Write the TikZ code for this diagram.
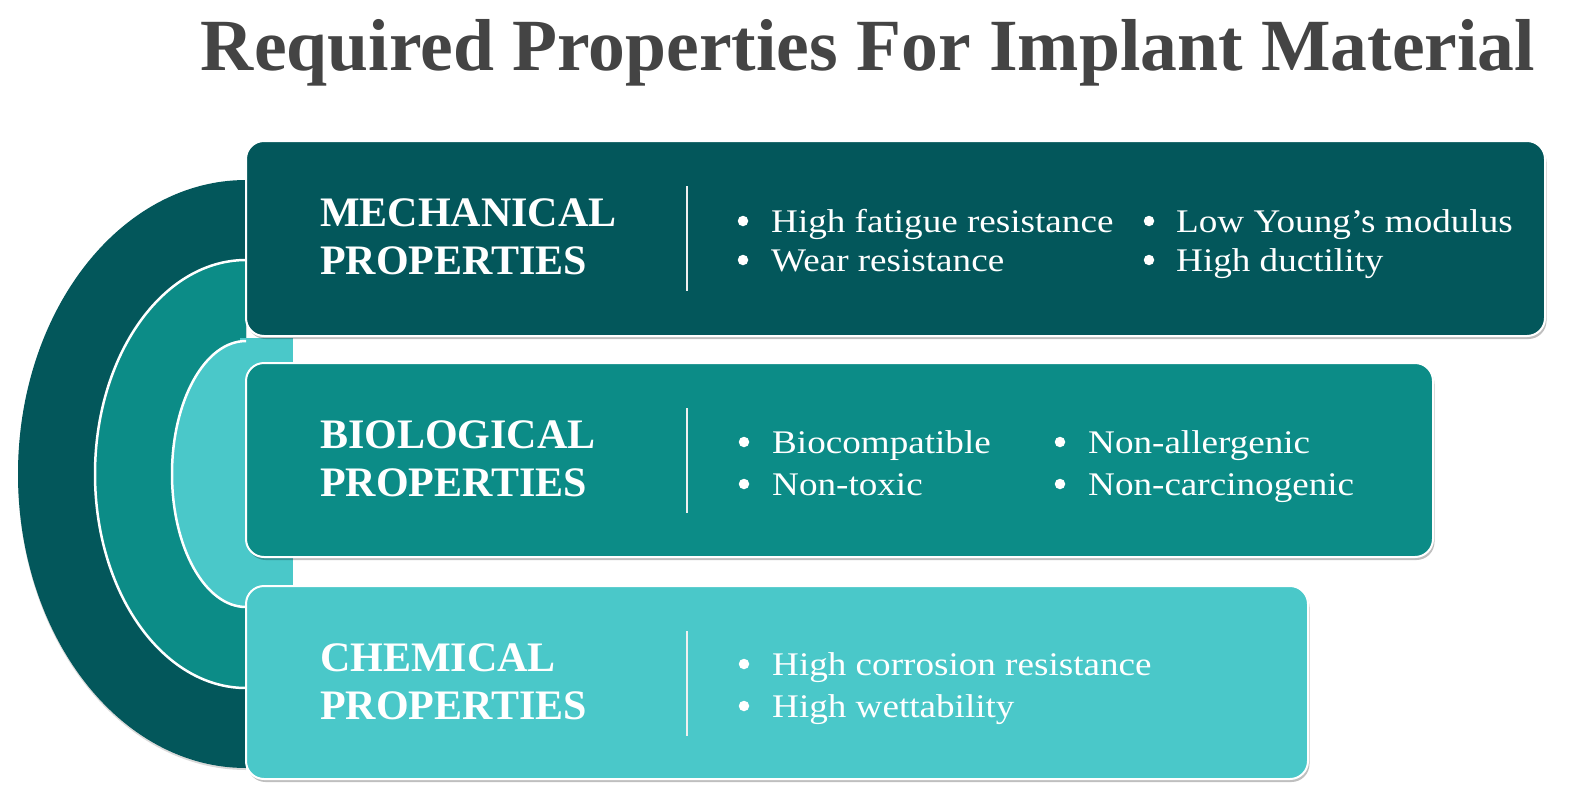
\documentclass[tikz,border=0pt]{standalone}
\usepackage{fontspec}
\setmainfont{Liberation Serif}
\newfontfamily\bodyfam[FakeStretch=1.125]{Liberation Serif}
\newfontfamily\headfam[FakeStretch=1.0]{Liberation Serif}
\usetikzlibrary{shadows}
\definecolor{cdark}{HTML}{03575B}
\definecolor{cmid}{HTML}{0C8C87}
\definecolor{clight}{HTML}{4AC8C9}
\definecolor{ctitle}{HTML}{444444}
\tikzset{
  panel/.style={rounded corners=18pt, draw=white, line width=2pt,
    drop shadow={shadow xshift=1.5pt, shadow yshift=-3pt, opacity=0.25, fill=black}},
  head/.style={anchor=base west, text=white, inner sep=0pt, font=\headfam\fontsize{42}{48}\selectfont\bfseries},
  item/.style={anchor=base west, text=white, inner sep=0pt, font=\bodyfam\fontsize{33}{40}\selectfont},
  dot/.style={circle, fill=white, inner sep=0pt, minimum size=10.5pt},
  sepline/.style={draw=white!88!gray, line width=2pt},
  ring/.style={draw=white, line width=2.5pt}
}
\begin{document}
\begin{tikzpicture}[x=1pt,y=-1pt]
\useasboundingbox (0,0) rectangle (1569,798);
% title
\node[anchor=base, text=ctitle, inner sep=0pt, font=\fontsize{73.6}{80}\selectfont\bfseries] (title) at (868,70) {Required Properties For Implant Material};
% arcs
\begin{scope}
  \clip (0,0) rectangle (246,798);
  \fill[cdark, drop shadow={shadow xshift=0pt, shadow yshift=-2pt, opacity=0.15, fill=black}] (246,474) ellipse [x radius=228pt, y radius=294pt];
  \fill[cmid] (246,474) ellipse [x radius=151pt, y radius=214pt];
  \draw[ring] (246,474) ellipse [x radius=151pt, y radius=214pt];
\end{scope}
\fill[clight] (240,338) rectangle (293,600);
\begin{scope}
  \clip (0,0) rectangle (246,798);
  \fill[clight] (246,474) ellipse [x radius=74pt, y radius=133pt];
  \draw[ring] (246,474) ellipse [x radius=74pt, y radius=133pt];
\end{scope}
% panels
\path[panel, fill=clight] (246,586) rectangle (1308,779);
\path[panel, fill=cmid] (246,363) rectangle (1433,557);
\path[panel, fill=cdark] (246,141) rectangle (1545,336);
% separators
\draw[sepline] (687,186) -- (687,291);
\draw[sepline] (687,408) -- (687,513);
\draw[sepline] (687,631) -- (687,736);
% mechanical
\node[head] (mh1) at (320,226) {MECHANICAL};
\node[head] (mh2) at (320,274) {PROPERTIES};
\node[dot] (mb1) at (743,221) {};
\node[item] (mi1) at (771,232) {High fatigue resistance};
\node[dot] (mb2) at (743,260) {};
\node[item] (mi2) at (771,271) {Wear resistance};
\node[dot] (mb3) at (1149,221) {};
\node[item] (mi3) at (1176,232) {Low Young’s modulus};
\node[dot] (mb4) at (1149,260) {};
\node[item] (mi4) at (1176,271) {High ductility};
% biological
\node[head] (bh1) at (320,448) {BIOLOGICAL};
\node[head] (bh2) at (320,496) {PROPERTIES};
\node[dot] (bb1) at (744,442) {};
\node[item] (bi1) at (772,453) {Biocompatible};
\node[dot] (bb2) at (744,484) {};
\node[item] (bi2) at (772,495) {Non-toxic};
\node[dot] (bb3) at (1060,442) {};
\node[item] (bi3) at (1088,453) {Non-allergenic};
\node[dot] (bb4) at (1060,484) {};
\node[item] (bi4) at (1088,495) {Non-carcinogenic};
% chemical
\node[head] (ch1) at (320,671) {CHEMICAL};
\node[head] (ch2) at (320,719) {PROPERTIES};
\node[dot] (cb1) at (744,664) {};
\node[item] (ci1) at (772,675) {High corrosion resistance};
\node[dot] (cb2) at (744,706) {};
\node[item] (ci2) at (772,717) {High wettability};
\end{tikzpicture}
\end{document}
